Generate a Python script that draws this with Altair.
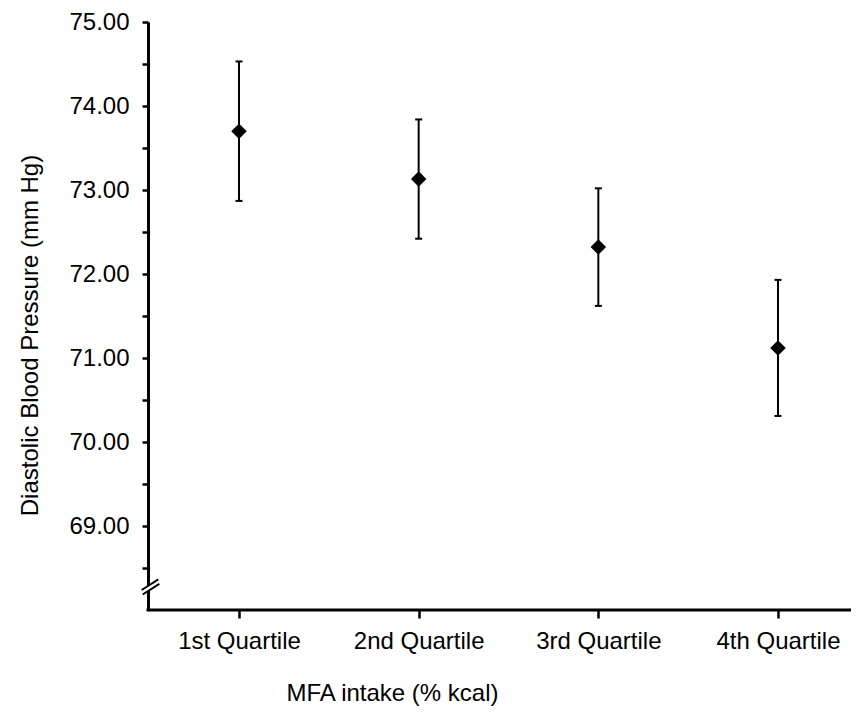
import altair as alt
import pandas as pd

categories = ["1st Quartile", "2nd Quartile", "3rd Quartile", "4th Quartile"]
means = [73.70, 73.13, 72.32, 71.12]
lower = [72.87, 72.42, 71.62, 70.31]
upper = [74.53, 73.84, 73.02, 71.93]
y_ticks = [68.5, 69, 69.5, 70, 70.5, 71, 71.5, 72, 72.5, 73, 73.5, 74, 74.5, 75]

df = pd.DataFrame({"quartile": categories, "mean": means, "lo": lower, "hi": upper})

FONT = "Liberation Sans"
W, H = 703, 588

x_enc = alt.X(
    "quartile:N",
    sort=categories,
    scale=alt.Scale(type="point", range=[91, 630], padding=0),
    axis=alt.Axis(
        title="MFA intake (% kcal)",
        labelAngle=0,
        tickSize=8,
        labelPadding=11,
        domain=False,
        titleX=244,
        titleY=90,
        titleAlign="center",
        titleBaseline="alphabetic",
    ),
)

y_scale = alt.Scale(domain=[68, 75], zero=False, nice=False)
y_axis = alt.Axis(
    title="Diastolic Blood Pressure (mm Hg)",
    values=y_ticks,
    labelExpr="datum.value >= 69 && datum.value % 1 === 0 ? format(datum.value, '.2f') : ''",
    labelOverlap=False,
    labelFlush=False,
    tickSize=6,
    labelPadding=13,
    titleAngle=-90,
    titleX=-111,
    titleY=313,
    titleAlign="center",
    titleBaseline="alphabetic",
)

base = alt.Chart(df)

bars = base.mark_rule(strokeWidth=2, color="black").encode(
    x=x_enc,
    y=alt.Y("lo:Q", scale=y_scale, axis=y_axis),
    y2="hi:Q",
)
cap_lo = base.mark_tick(size=7, thickness=2, color="black", opacity=1).encode(
    x=alt.X("quartile:N", sort=categories), y=alt.Y("lo:Q")
)
cap_hi = base.mark_tick(size=7, thickness=2, color="black", opacity=1).encode(
    x=alt.X("quartile:N", sort=categories), y=alt.Y("hi:Q")
)
points = base.mark_point(shape="diamond", filled=True, size=240, color="black", opacity=1).encode(
    x=alt.X("quartile:N", sort=categories), y=alt.Y("mean:Q")
)

one = alt.Chart(pd.DataFrame({"k": [0]}))
x_line = one.mark_rule(strokeWidth=3, color="black").encode(
    x=alt.value(-1.5), x2=alt.value(W), y=alt.value(H)
)
mask = one.mark_rule(strokeWidth=4.5, color="white").encode(
    x=alt.value(-5.8), x2=alt.value(10.8), y=alt.value(570), y2=alt.value(559.3)
)
brk1 = one.mark_rule(strokeWidth=2, color="black").encode(
    x=alt.value(-6.3), x2=alt.value(10.3), y=alt.value(568), y2=alt.value(557.3)
)
brk2 = one.mark_rule(strokeWidth=2, color="black").encode(
    x=alt.value(-5.3), x2=alt.value(11.3), y=alt.value(572.5), y2=alt.value(561.8)
)

chart = (
    alt.layer(bars, cap_lo, cap_hi, points, x_line, mask, brk1, brk2)
    .properties(
        width=W,
        height=H,
        autosize="none",
        padding={"left": 140, "top": 14, "right": 0, "bottom": 97},
    )
    .configure_view(stroke=None)
    .configure_axis(
        grid=False,
        domainColor="black",
        domainWidth=3,
        tickColor="black",
        tickWidth=2.5,
        labelFont=FONT,
        labelFontSize=24,
        labelColor="black",
        titleFont=FONT,
        titleFontSize=24,
        titleFontWeight="normal",
        titleColor="black",
    )
)

chart.save("out.html", embed_options={"renderer": "svg", "actions": False})
